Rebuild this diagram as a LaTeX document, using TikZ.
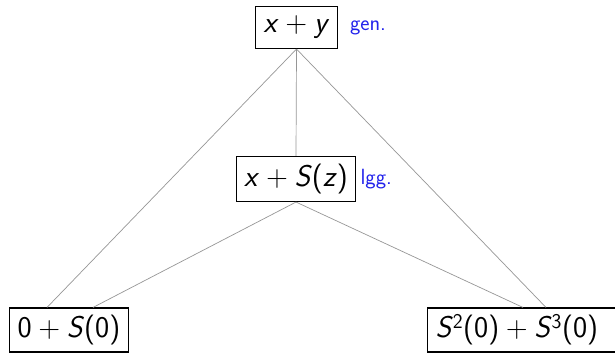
\documentclass[tikz,border=0pt]{standalone}
\usepackage{fontspec}
\usetikzlibrary{positioning,calc}
\definecolor{lggBlue}{RGB}{35,35,235}
\definecolor{edgeGray}{RGB}{150,150,150}
\newcommand{\tv}[1]{\textit{#1}}
\newcommand{\tplus}{\hspace{0.22em}+\hspace{0.22em}}

\begin{document}
\begin{tikzpicture}[
  x=1pt, y=1pt,
  term/.style={draw, line width=1.1pt, minimum height=42pt, inner xsep=8pt, font=\sffamily\fontsize{30}{34}\selectfont},
  tag/.style={text=lggBlue, inner sep=0pt, font=\sffamily\fontsize{22}{26}\selectfont},
  edge/.style={draw=edgeGray, line width=0.7pt}
]
\useasboundingbox (0,0) rectangle (615,354);
\node[term] (gen) at (296.5,326.5) {\tv{x}\tplus\tv{y}};
\node[tag, right=12pt of gen] (genlbl) {gen.};
\node[term, minimum height=45pt] (lgg) at (296,175) {\tv{x}\tplus\tv{S}(\tv{z})};
\node[tag, right=4pt of lgg] (lgglbl) {lgg.};
\node[term, minimum height=44pt] (left) at (69,24) {0\tplus\tv{S}(0)};
\node[term, minimum height=44pt, anchor=west, text width=176pt, align=left] (right) at (427,24) {\tv{S}\textsuperscript{2}(0)\tplus\tv{S}\textsuperscript{3}(0)};
% edges of the generalisation lattice
\draw[edge] (gen.south) -- ([xshift=-22pt]left.north);
\draw[edge] (gen.south) -- (lgg.north);
\draw[edge] (gen.south) -- ([xshift=119pt]right.north west);
\draw[edge] (lgg.south) -- ([xshift=24pt]left.north);
\draw[edge] (lgg.south) -- ([xshift=96pt]right.north west);
\end{tikzpicture}
\end{document}
